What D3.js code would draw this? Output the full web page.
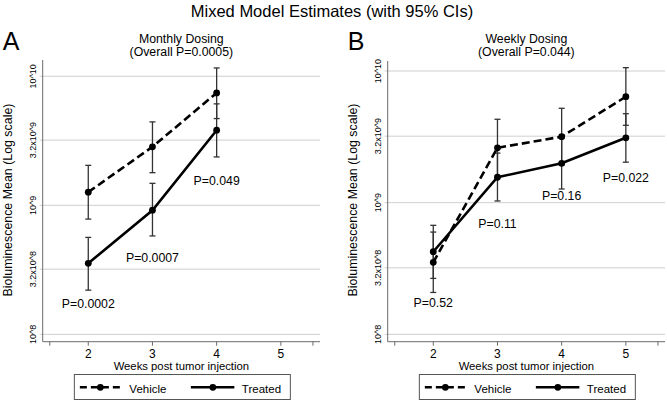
<!DOCTYPE html>
<html><head><meta charset="utf-8">
<script src="https://cdn.jsdelivr.net/npm/d3@7"></script>
<style>
body{margin:0;background:#fff;}
svg text{font-family:"Liberation Sans",Arial,Helvetica,sans-serif;fill:#000;}
</style></head>
<body><svg id="c" width="667" height="402"></svg>
<script>
// ---- data ----
const weeksA = [2, 3, 4];
const vehicleA = [1.265e9, 2.84e9, 7.43e9];
const vehicleA_lo = [7.82e8, 1.79e9, 4.70e9];
const vehicleA_hi = [2.04e9, 4.43e9, 1.16e10];
const treatedA = [3.55e8, 9.16e8, 3.82e9];
const treatedA_lo = [2.20e8, 5.79e8, 2.37e9];
const treatedA_hi = [5.64e8, 1.48e9, 6.11e9];
const pLabelsA = ["P=0.0002", "P=0.0007", "P=0.049"];
const pLabelYA = [1.61e8, 3.64e8, 1.44e9];

const weeksB = [2, 3, 4, 5];
const vehicleB = [3.52e8, 2.61e9, 3.17e9, 6.38e9];
const vehicleB_lo = [2.08e8, 1.59e9, 1.93e9, 3.87e9];
const vehicleB_hi = [5.98e8, 4.30e9, 5.21e9, 1.06e10];
const treatedB = [4.24e8, 1.56e9, 1.99e9, 3.11e9];
const treatedB_lo = [2.66e8, 1.03e9, 1.27e9, 2.03e9];
const treatedB_hi = [6.73e8, 2.38e9, 3.09e9, 4.74e9];
const pLabelsB = ["P=0.52", "P=0.11", "P=0.16", "P=0.022"];
const pLabelYB = [1.61e8, 6.38e8, 1.04e9, 1.44e9];

const yTickValues = [1e8, 3.2e8, 1e9, 3.2e9, 1e10];
const yTickLabels = ["10^8", "3.2x10^8", "10^9", "3.2x10^9", "10^10"];
const xTickValues = [2, 3, 4, 5];
const xTickLabels = ["2", "3", "4", "5"];
const xMinorTicks = [1.4, 5.5];
const seriesNames = ["Vehicle", "Treated"];
const panelLetters = ["A", "B"];
const panelTitles = ["Monthly Dosing", "Weekly Dosing"];
const panelSubtitles = ["(Overall P=0.0005)", "(Overall P=0.044)"];
const mainTitle = "Mixed Model Estimates (with 95% CIs)";

// ---- layout ----
const svg = d3.select("#c");
svg.append("text").attr("x", 332).attr("y", 17).attr("text-anchor", "middle")
  .style("font-size", "16.5px").text(mainTitle);

const panels = [
  {x0: 42.7, x1: 320, yTop: 60, yDom: [Math.pow(10, 7.943), Math.pow(10, 10.126)],
   weeks: weeksA, veh: vehicleA, vlo: vehicleA_lo, vhi: vehicleA_hi,
   tr: treatedA, tlo: treatedA_lo, thi: treatedA_hi, pl: pLabelsA, py: pLabelYA},
  {x0: 387.7, x1: 665, yTop: 61, yDom: [Math.pow(10, 7.944), Math.pow(10, 10.076)],
   weeks: weeksB, veh: vehicleB, vlo: vehicleB_lo, vhi: vehicleB_hi,
   tr: treatedB, tlo: treatedB_lo, thi: treatedB_hi, pl: pLabelsB, py: pLabelYB}
];
const yBottom = 341.7;

panels.forEach((p, i) => {
  const g = svg.append("g");
  const x = d3.scaleLinear().domain([1.29, 5.61]).range([p.x0, p.x1]);
  const y = d3.scaleLog().domain(p.yDom).range([yBottom, p.yTop]);
  const cx = (p.x0 + p.x1) / 2;

  // letter & titles
  g.append("text").attr("x", p.x0 - 40).attr("y", 50).style("font-size", "25px").text(panelLetters[i]);
  g.append("text").attr("x", cx).attr("y", 43.3).attr("text-anchor", "middle").style("font-size", "12.3px").text(panelTitles[i]);
  g.append("text").attr("x", cx).attr("y", 55.8).attr("text-anchor", "middle").style("font-size", "12.3px").text(panelSubtitles[i]);

  // gridlines
  g.selectAll(".grid").data(yTickValues).join("line")
    .attr("x1", p.x0 - 3).attr("x2", p.x1)
    .attr("y1", d => y(d)).attr("y2", d => y(d))
    .attr("stroke", "#cfcfcf").attr("stroke-width", 1);
  // y tick labels
  g.selectAll(".yl").data(yTickValues).join("text")
    .attr("transform", (d, k) => `translate(${p.x0 - 7},${y(d)}) rotate(-90)`)
    .attr("text-anchor", "middle").style("font-size", "9px")
    .text((d, k) => yTickLabels[k]);
  // axes lines
  g.append("line").attr("x1", p.x0).attr("x2", p.x0).attr("y1", p.yTop).attr("y2", yBottom)
    .attr("stroke", "#6a6a6a").attr("stroke-width", 1);
  g.append("line").attr("x1", p.x0).attr("x2", p.x1).attr("y1", yBottom).attr("y2", yBottom)
    .attr("stroke", "#6a6a6a").attr("stroke-width", 1);
  // x ticks
  const allTicks = xMinorTicks.concat(xTickValues);
  g.selectAll(".xt").data(allTicks).join("line")
    .attr("x1", d => x(d)).attr("x2", d => x(d))
    .attr("y1", yBottom).attr("y2", yBottom + 4)
    .attr("stroke", "#6a6a6a").attr("stroke-width", 1);
  g.selectAll(".xl").data(xTickValues).join("text")
    .attr("x", d => x(d)).attr("y", 358).attr("text-anchor", "middle")
    .style("font-size", "12px").text((d, k) => xTickLabels[k]);
  g.append("text").attr("x", cx).attr("y", 369.5).attr("text-anchor", "middle")
    .style("font-size", "11.3px").text("Weeks post tumor injection");
  g.append("text").attr("transform", `translate(${p.x0 - 30.5},200) rotate(-90)`)
    .attr("text-anchor", "middle").style("font-size", "12.4px").text("Bioluminescence Mean (Log scale)");

  // error bars
  const series = [
    {m: p.veh, lo: p.vlo, hi: p.vhi, dash: "8,4"},
    {m: p.tr, lo: p.tlo, hi: p.thi, dash: null}
  ];
  series.forEach(s => {
    p.weeks.forEach((w, k) => {
      g.append("line").attr("x1", x(w)).attr("x2", x(w)).attr("y1", y(s.lo[k])).attr("y2", y(s.hi[k]))
        .attr("stroke", "#333").attr("stroke-width", 1.3);
      [s.lo[k], s.hi[k]].forEach(v => {
        g.append("line").attr("x1", x(w) - 3).attr("x2", x(w) + 3).attr("y1", y(v)).attr("y2", y(v))
          .attr("stroke", "#333").attr("stroke-width", 1.3);
      });
    });
  });
  series.forEach(s => {
    const line = d3.line().x((d, k) => x(p.weeks[k])).y(d => y(d));
    g.append("path").datum(s.m).attr("d", line).attr("fill", "none")
      .attr("stroke", "#000").attr("stroke-width", 2.6)
      .attr("stroke-dasharray", s.dash);
    g.selectAll(null).data(s.m).join("circle")
      .attr("cx", (d, k) => x(p.weeks[k])).attr("cy", d => y(d)).attr("r", 3.4).attr("fill", "#000");
  });
  // p labels
  g.selectAll(".pl").data(p.pl).join("text")
    .attr("x", (d, k) => x(p.weeks[k])).attr("y", (d, k) => y(p.py[k]))
    .attr("text-anchor", "middle").style("font-size", "12.3px").text(d => d);

  // legend
  const lw = 216, lx = cx - lw / 2 + 1;
  g.append("rect").attr("x", lx).attr("y", 374.5).attr("width", lw).attr("height", 25)
    .attr("fill", "#fff").attr("stroke", "#555").attr("stroke-width", 1);
  const ly = 387.3;
  g.append("line").attr("x1", lx + 5.5).attr("x2", lx + 46.5).attr("y1", ly).attr("y2", ly)
    .attr("stroke", "#000").attr("stroke-width", 2.6).attr("stroke-dasharray", "7,4");
  g.append("circle").attr("cx", lx + 26).attr("cy", ly).attr("r", 3.4).attr("fill", "#000");
  g.append("text").attr("x", lx + 55).attr("y", 393).style("font-size", "11.5px").text(seriesNames[0]);
  g.append("line").attr("x1", lx + 116.5).attr("x2", lx + 160).attr("y1", ly).attr("y2", ly)
    .attr("stroke", "#000").attr("stroke-width", 2.6);
  g.append("circle").attr("cx", lx + 138.5).attr("cy", ly).attr("r", 3.4).attr("fill", "#000");
  g.append("text").attr("x", lx + 167.5).attr("y", 393).style("font-size", "11.5px").text(seriesNames[1]);
});
</script></body></html>
